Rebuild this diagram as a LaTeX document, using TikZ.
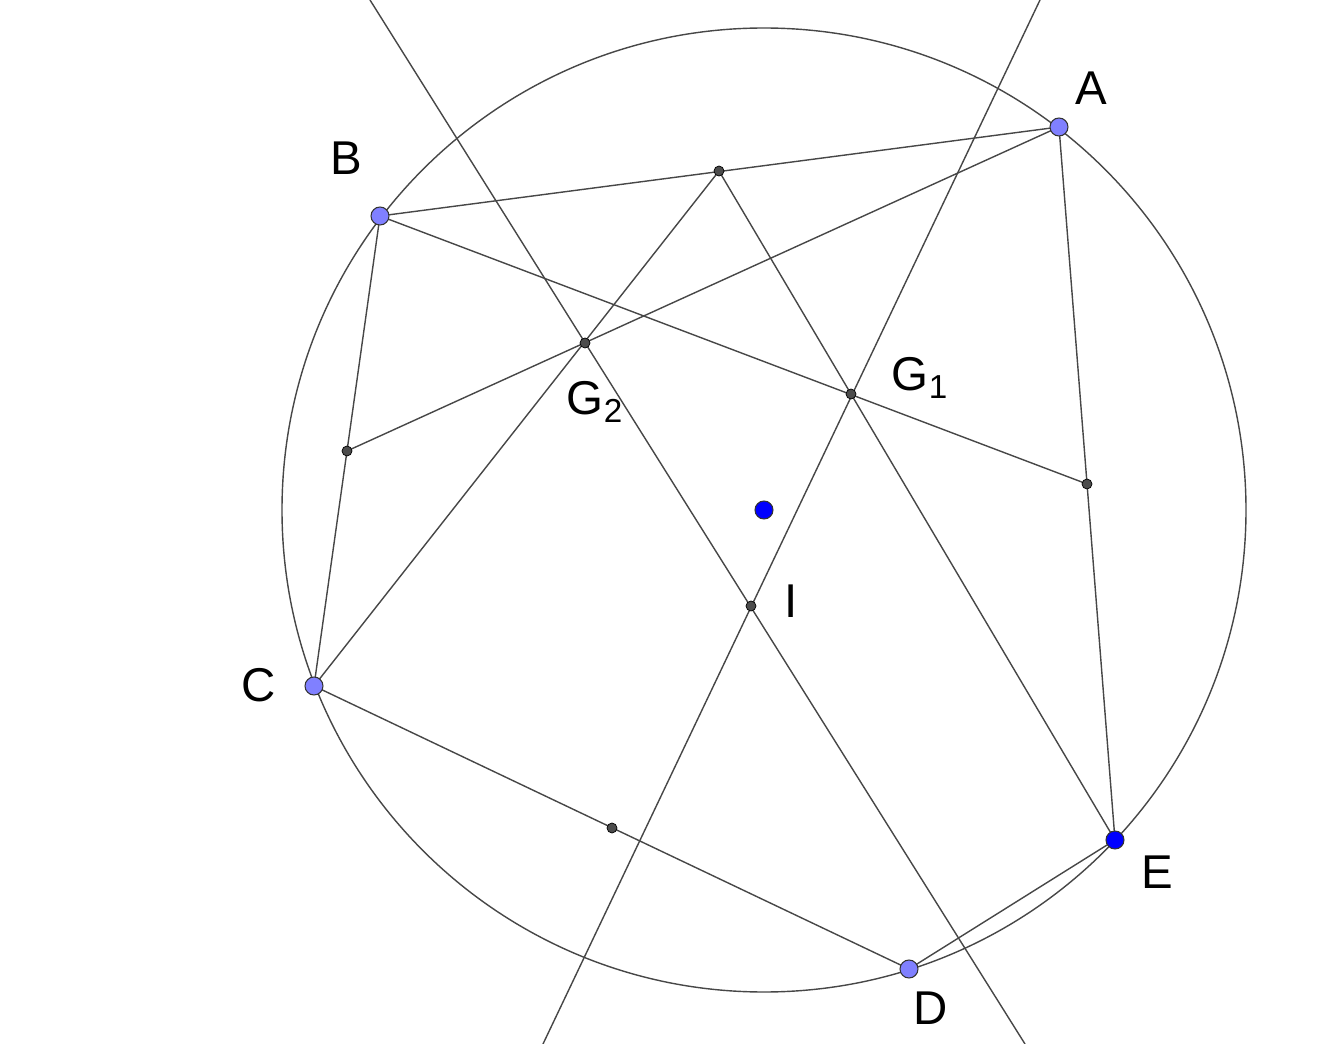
\documentclass[tikz,border=0pt]{standalone}
\usepackage{fontspec}
\setmainfont{Liberation Sans}
\begin{document}
\begin{tikzpicture}[x=0.02cm,y=-0.02cm,
  ln/.style={draw=black!72,line width=0.8pt},
  bigpt/.style={circle,draw=black!80,line width=0.6pt,fill={rgb,255:red,128;green,128;blue,255},inner sep=0pt,minimum size=0.36cm},
  darkpt/.style={circle,draw=black!80,line width=0.6pt,fill={rgb,255:red,0;green,0;blue,255},inner sep=0pt,minimum size=0.36cm},
  smallpt/.style={circle,draw=black,line width=0.4pt,fill=black!70,inner sep=0pt,minimum size=0.2cm},
  lab/.style={font=\fontsize{27}{32}\selectfont}]
\useasboundingbox (0,0) rectangle (1330,1044);
\clip (0,0) rectangle (1330,1044);
\coordinate (A) at (1059,127);
\coordinate (B) at (380,216);
\coordinate (C) at (314,686);
\coordinate (D) at (909,969);
\coordinate (E) at (1115,840);
\coordinate (O) at (764,510);
\coordinate (Mab) at (719,171);
\coordinate (Mbc) at (347,451);
\coordinate (Mcd) at (612,828);
\coordinate (Mea) at (1087,484);
\coordinate (G1) at (851,394);
\coordinate (G2) at (585,343);
\coordinate (I) at (751,606);
\coordinate (T1) at (1040,0);
\coordinate (T2) at (543,1044);
\coordinate (T3) at (370,0);
\coordinate (T4) at (1025,1044);
\draw[ln] (O) circle (482);
\draw[ln] (A)--(B)--(C)--(D)--(E)--cycle;
\draw[ln] (B)--(Mea);
\draw[ln] (A)--(Mbc);
\draw[ln] (Mab)--(C);
\draw[ln] (Mab)--(E);
\draw[ln] (T1)--(T2);
\draw[ln] (T3)--(T4);
\node[smallpt] at (Mab) {};
\node[smallpt] at (Mbc) {};
\node[smallpt] at (Mcd) {};
\node[smallpt] at (Mea) {};
\node[smallpt] (g1) at (G1) {};
\node[smallpt] (g2) at (G2) {};
\node[smallpt] (i) at (I) {};
\node[bigpt] (a) at (A) {};
\node[bigpt] (b) at (B) {};
\node[bigpt] (c) at (C) {};
\node[bigpt] (d) at (D) {};
\node[darkpt] (e) at (E) {};
\node[darkpt] (o) at (O) {};
\node[lab] at (1091,88) {A};
\node[lab] at (346,158) {B};
\node[lab] at (259,685) {C};
\node[lab] at (931,1008) {D};
\node[lab] at (1157,872) {E};
\node[lab] at (920,378) {G$_{\mathrm{1}}$};
\node[lab] at (595,402) {G$_{\mathrm{2}}$};
\node[lab] at (791,601) {I};
\end{tikzpicture}
\end{document}
